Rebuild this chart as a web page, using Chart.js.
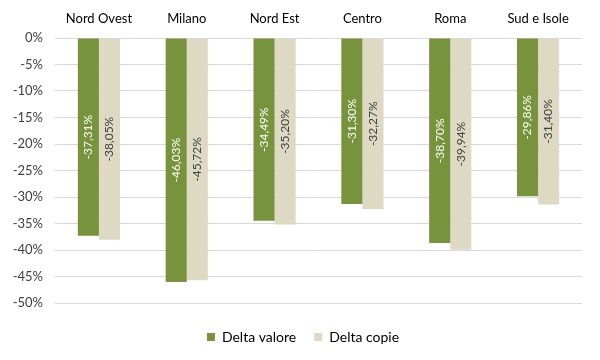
<!DOCTYPE html>
<html>
<head>
<meta charset="utf-8">
<script src="https://cdn.jsdelivr.net/npm/chart.js@4/dist/chart.umd.min.js"></script>
<style>
  html, body { margin: 0; padding: 0; background: #fff; }
  #wrap { width: 600px; height: 360px; }
</style>
</head>
<body>
<div id="wrap"><canvas id="deltaChart"></canvas></div>
<script>
const areas = ['Nord Ovest', 'Milano', 'Nord Est', 'Centro', 'Roma', 'Sud e Isole'];
const deltaValore = [-37.31, -46.03, -34.49, -31.30, -38.70, -29.86];
const deltaCopie = [-38.05, -45.72, -35.20, -32.27, -39.94, -31.40];
const yTicks = [0, -5, -10, -15, -20, -25, -30, -35, -40, -45, -50];

const FONT = 'Lato, "Open Sans", sans-serif';

// labels rotated inside the bars, italian decimal comma
const barLabels = {
  id: 'barLabels',
  afterDatasetsDraw(chart) {
    const { ctx } = chart;
    ctx.save();
    ctx.font = '12px ' + FONT;
    ctx.textAlign = 'center';
    ctx.textBaseline = 'middle';
    chart.data.datasets.forEach((ds, di) => {
      const meta = chart.getDatasetMeta(di);
      meta.data.forEach((bar, i) => {
        const txt = ds.data[i].toFixed(2).replace('.', ',') + '%';
        const cy = (bar.y + bar.base) / 2;
        ctx.save();
        ctx.translate(bar.x, cy);
        ctx.rotate(-Math.PI / 2);
        ctx.fillStyle = di === 0 ? '#ffffff' : '#404040';
        ctx.fillText(txt, 0, 0);
        ctx.restore();
      });
    });
    ctx.restore();
  }
};

// empty spacer axes so the legend stays centred on the page
const spacer = size => ({
  display: true,
  grid: { display: false },
  border: { display: false },
  ticks: { display: false },
  afterFit: s => { if (s.isHorizontal()) s.height = size; else s.width = size; }
});

new Chart(document.getElementById('deltaChart'), {
  type: 'bar',
  data: {
    labels: areas,
    datasets: [
      { label: 'Delta valore', data: deltaValore, backgroundColor: '#77933c' },
      { label: 'Delta copie', data: deltaCopie, backgroundColor: '#ddd9c3' }
    ]
  },
  options: {
    responsive: true,
    maintainAspectRatio: false,
    animation: false,
    layout: { padding: { left: 6, right: 0, top: 0, bottom: 6 } },
    datasets: { bar: { categoryPercentage: 0.48, barPercentage: 1.0 } },
    scales: {
      x: {
        position: 'top',
        grid: { display: false },
        border: { display: false },
        ticks: { color: '#000', font: { family: FONT, size: 13 }, padding: 3, maxRotation: 0 },
        afterFit: s => { s.height = 38; }
      },
      y: {
        min: -50,
        max: 0,
        afterBuildTicks: s => { s.ticks = yTicks.map(v => ({ value: v })); },
        grid: { color: '#d9d9d9', drawTicks: false },
        border: { display: false },
        ticks: { color: '#404040', font: { family: FONT, size: 13 }, padding: 12, callback: v => v + '%' },
        afterFit: s => { s.width = 49; }
      },
      x2: Object.assign({ type: 'category', position: 'bottom' }, spacer(9)),
      y2: Object.assign({ type: 'linear', position: 'right' }, spacer(18))
    },
    plugins: {
      legend: {
        position: 'bottom',
        labels: { boxWidth: 8, boxHeight: 8, color: '#000', font: { family: FONT, size: 14 }, padding: 18 }
      },
      tooltip: { enabled: false }
    }
  },
  plugins: [barLabels]
});
</script>
</body>
</html>
